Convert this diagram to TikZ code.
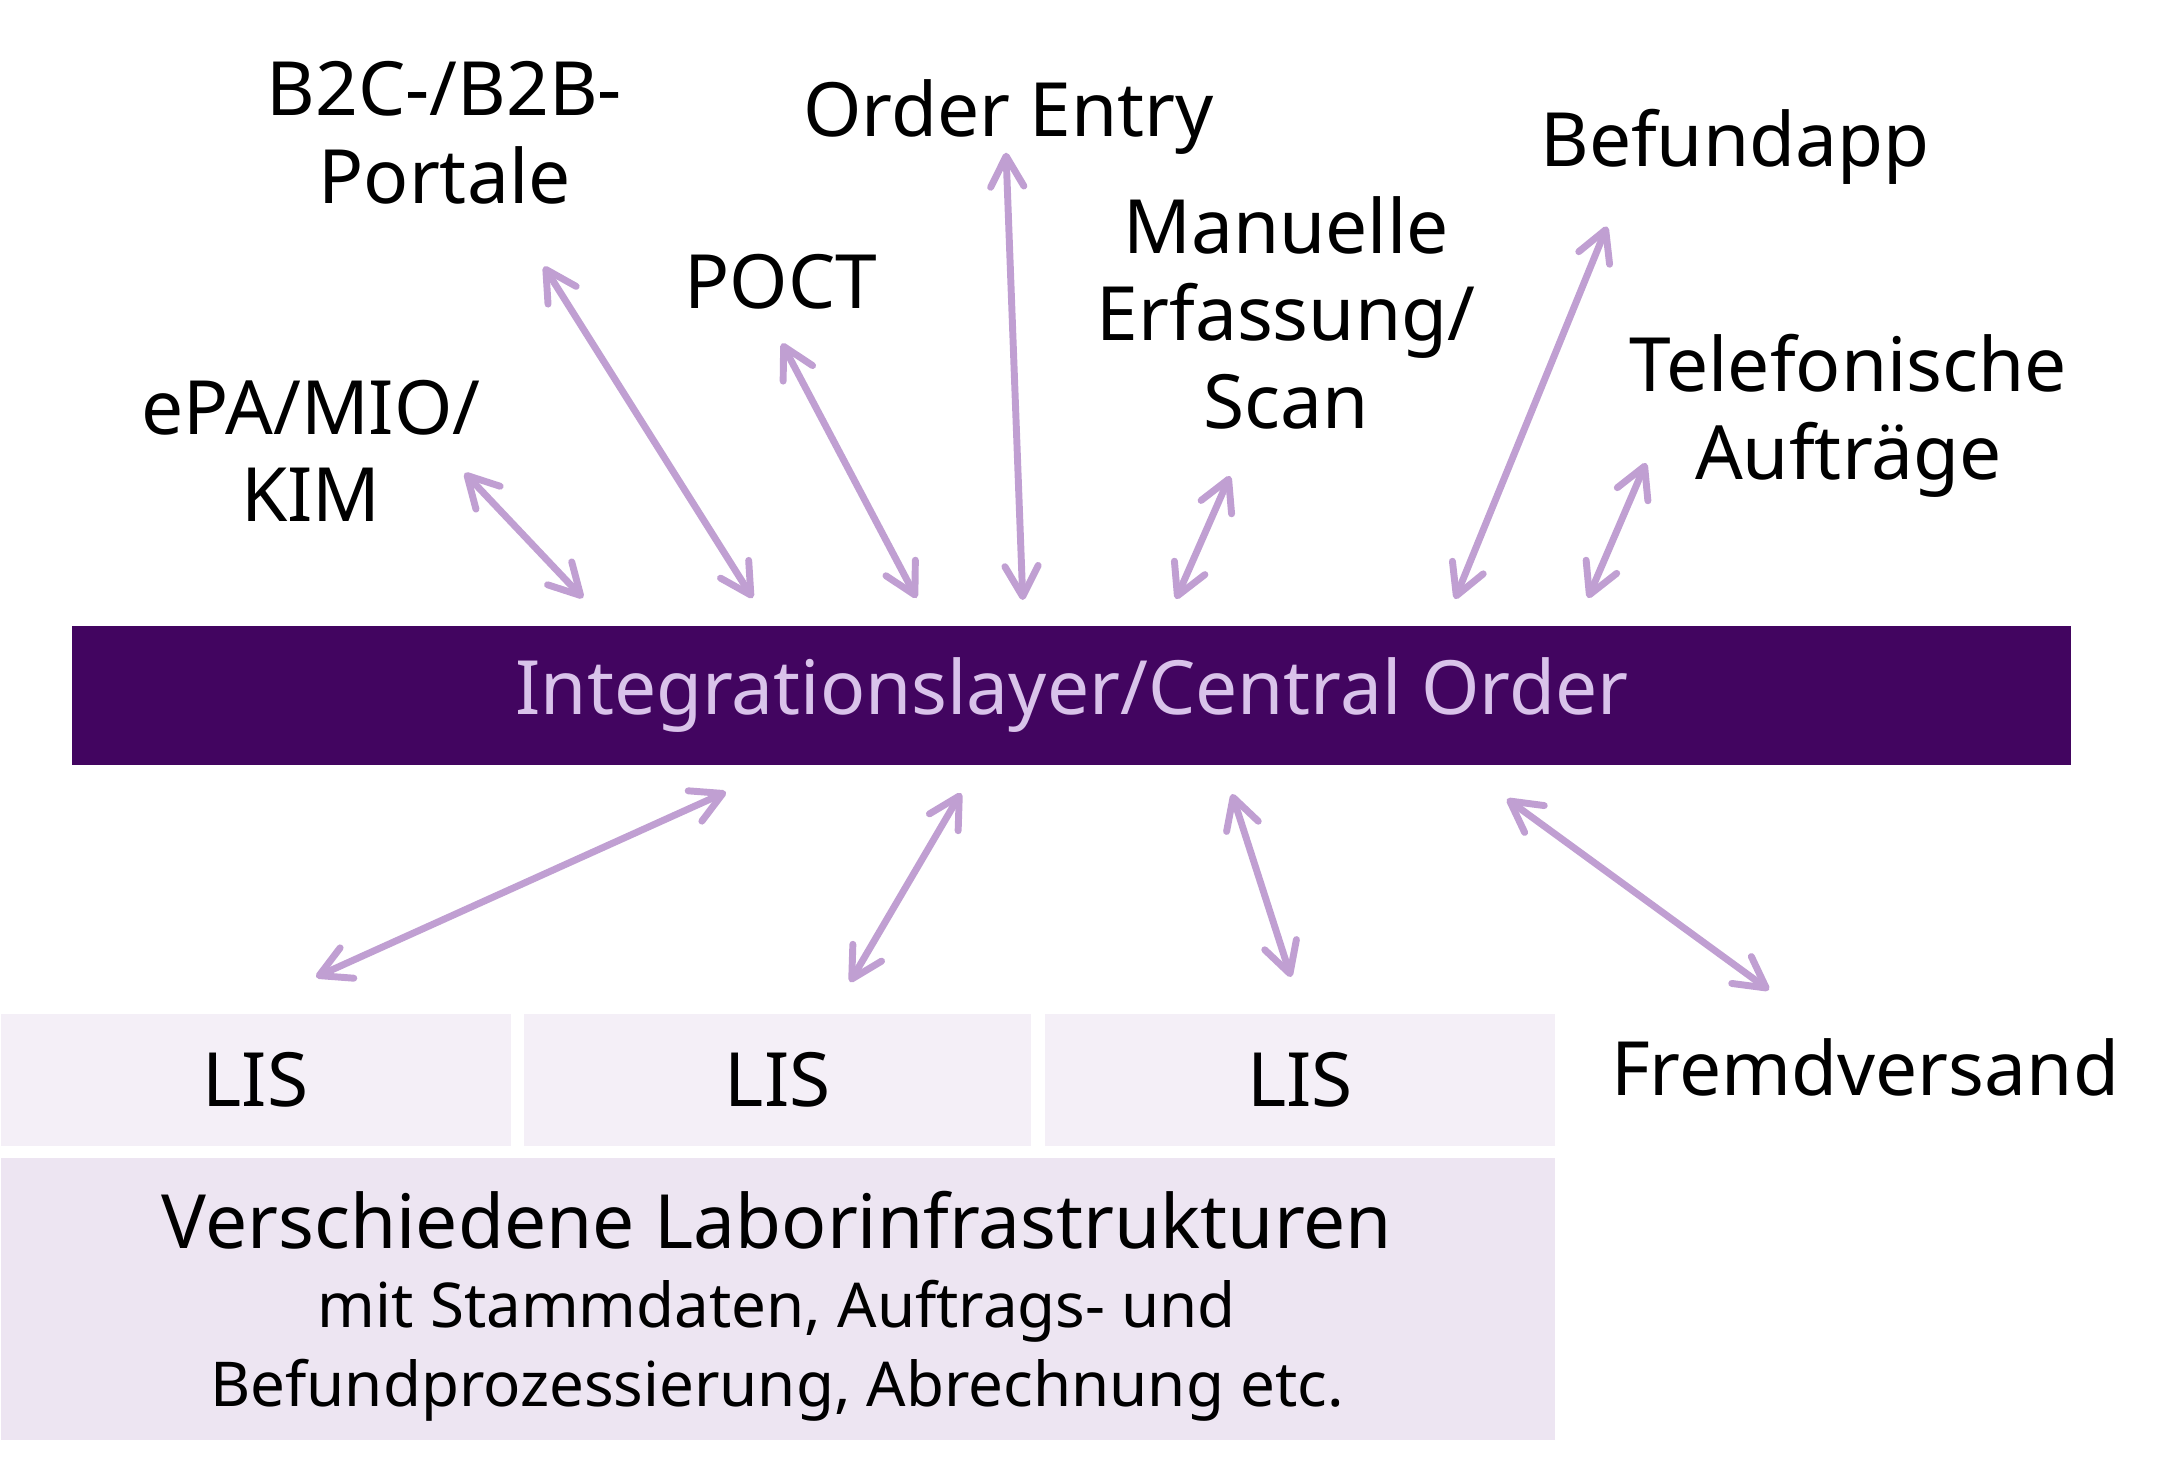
\documentclass[tikz,border=0pt]{standalone}
\usepackage{fontspec}
\setmainfont{Noto Sans}
\usetikzlibrary{arrows.meta}
\definecolor{barpurple}{HTML}{420560}
\definecolor{bartext}{HTML}{D9C3EA}
\definecolor{arrowpurple}{HTML}{C09FD2}
\definecolor{lisfill}{HTML}{F4EFF7}
\definecolor{basefill}{HTML}{EDE5F2}
\tikzset{
  lbl/.style={align=center, inner sep=0pt, anchor=base, font=\fontsize{27}{31.55}\selectfont, text=black},
  box/.style={inner sep=0pt, anchor=north west, font=\fontsize{27}{31.55}\selectfont},
  link/.style={draw=arrowpurple, line width=2.5pt, line cap=round, line join=round,
    {Straight Barb[length=11pt,width=12pt,line cap=round,line join=round]}-{Straight Barb[length=11pt,width=12pt,line cap=round,line join=round]}},
}
\begin{document}
\begin{tikzpicture}[x=0.36061pt,y=-0.36061pt]
\useasboundingbox (0,0) rectangle (2163,1457);
% bar
\node[box, fill=barpurple, minimum width=720.9pt, minimum height=50.4pt, text=bartext] (bar) at (71.7,625) {Integrationslayer/Central Order};
% LIS boxes
\node[box, fill=lisfill, minimum width=183.9pt, minimum height=47.4pt] (lis1) at (0,1013.5) {LIS};
\node[box, fill=lisfill, minimum width=182.9pt, minimum height=47.4pt] (lis2) at (523.5,1013.5) {LIS};
\node[box, fill=lisfill, minimum width=183.6pt, minimum height=47.4pt] (lis3) at (1044.9,1013.5) {LIS};
% base box
\node[box, fill=basefill, minimum width=560.4pt, minimum height=101.7pt] (base) at (0,1157.4) {};
\node[align=center, inner sep=0pt, anchor=base, font=\fontsize{22.3}{28.4}\selectfont] (basetext) at (777,1406.2)
  {{\fontsize{27}{28.4}\selectfont Verschiedene Laborinfrastrukturen}\\
   mit Stammdaten, Auftrags- und\\
   Befundprozessierung, Abrechnung etc.};
% labels (multi-line: base = last line)
\node[lbl] (fremd) at (1865,1095) {Fremdversand};
\node[lbl] (b2c) at (444.5,203.3) {B2C-/B2B-\\Portale};
\node[lbl] (order) at (1008.5,136) {Order Entry};
\node[lbl] (poct) at (781,308.3) {POCT};
\node[lbl] (manuell) at (1286,428.3) {Manuelle\\Erfassung/\\Scan};
\node[lbl] (befund) at (1735,166) {Befundapp};
\node[lbl] (telefon) at (1848.4,479.3) {Telefonische\\Aufträge};
\node[lbl] (epa) at (311,521.7) {ePA/MIO/\\KIM};
% arrow endpoints
\coordinate (epaA) at (464.7,473); \coordinate (epaB) at (583,598);
\coordinate (b2cA) at (544,266.5); \coordinate (b2cB) at (752.7,598);
\coordinate (poctA) at (782,343.3); \coordinate (poctB) at (916.5,598);
\coordinate (orderA) at (1006,152.7); \coordinate (orderB) at (1022.8,600);
\coordinate (manA) at (1230,476); \coordinate (manB) at (1176,599);
\coordinate (befA) at (1607,226.5); \coordinate (befB) at (1455,599);
\coordinate (telA) at (1646,463); \coordinate (telB) at (1588,598);
\coordinate (l1A) at (726,792); \coordinate (l1B) at (316,977);
\coordinate (l2A) at (961,793); \coordinate (l2B) at (850,982);
\coordinate (l3A) at (1232,794); \coordinate (l3B) at (1291,977);
\coordinate (fA) at (1507,799); \coordinate (fB) at (1769,990);
\draw[link] (epaA) -- (epaB);
\draw[link] (b2cA) -- (b2cB);
\draw[link] (poctA) -- (poctB);
\draw[link] (orderA) -- (orderB);
\draw[link] (manA) -- (manB);
\draw[link] (befA) -- (befB);
\draw[link] (telA) -- (telB);
\draw[link] (l1A) -- (l1B);
\draw[link] (l2A) -- (l2B);
\draw[link] (l3A) -- (l3B);
\draw[link] (fA) -- (fB);
\end{tikzpicture}
\end{document}
